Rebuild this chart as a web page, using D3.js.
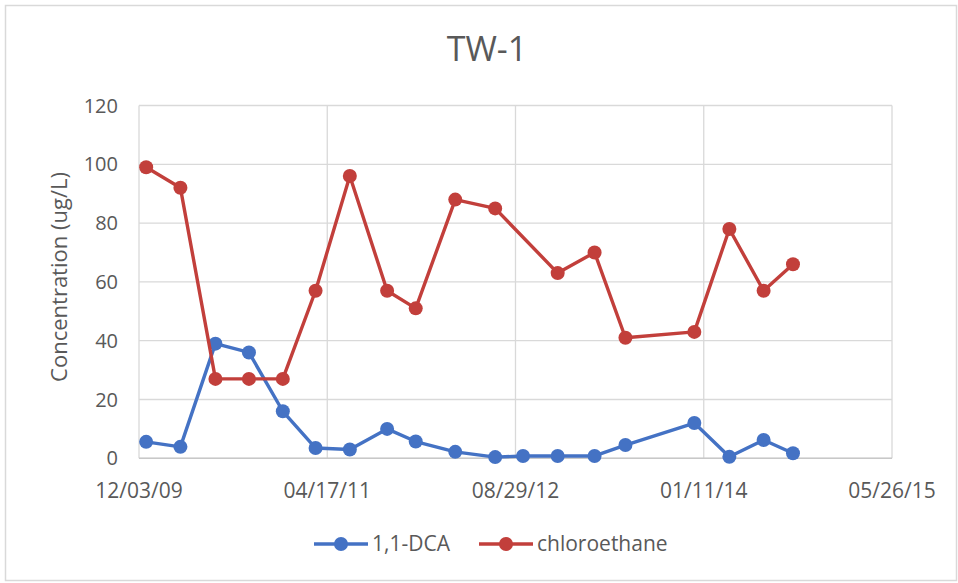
<!DOCTYPE html>
<html>
<head>
<meta charset="utf-8">
<script src="https://cdn.jsdelivr.net/npm/d3@7"></script>
<style>
  html, body { margin: 0; padding: 0; background: #fff; }
  svg { display: block; font-family: "Open Sans", "Noto Sans", sans-serif; }
</style>
</head>
<body>
<svg id="chart" width="958" height="583"></svg>
<script>
// ---- data ----
const sampleDates = ["2009-12-22","2010-03-23","2010-06-24","2010-09-21","2010-12-20",
  "2011-03-17","2011-06-16","2011-09-23","2011-12-08","2012-03-22","2012-07-06",
  "2012-09-18","2012-12-19","2013-03-27","2013-06-17","2013-12-17","2014-03-20",
  "2014-06-19","2014-09-05"];
const dcaValues = [5.6, 3.9, 39, 36, 16, 3.5, 3, 10, 5.7, 2.2, 0.4, 0.8, 0.8, 0.8, 4.5, 12, 0.5, 6.2, 1.7];
const chloroethaneValues = [99, 92, 27, 27, 27, 57, 96, 57, 51, 88, 85, null, 63, 70, 41, 43, 78, 57, 66];
const xTickLabels = ["12/03/09", "04/17/11", "08/29/12", "01/11/14", "05/26/15"];
const yTickValues = [0, 20, 40, 60, 80, 100, 120];
const seriesNames = ["1,1-DCA", "chloroethane"];
const chartTitle = "TW-1";
const yAxisTitle = "Concentration (ug/L)";

// ---- layout ----
const colors = ["#4472c4", "#c23f3b"];
const textColor = "#595959";
const gridColor = "#d9d9d9";
const plotLeft = 139, plotRight = 892, plotTop = 105.5, plotBottom = 458.3;

const parseISO = d3.timeParse("%Y-%m-%d");
const parseTick = d3.timeParse("%m/%d/%y");
const tickDates = xTickLabels.map(parseTick);
const dates = sampleDates.map(parseISO);

const x = d3.scaleTime().domain([tickDates[0], tickDates[tickDates.length - 1]]).range([plotLeft, plotRight]);
const y = d3.scaleLinear().domain([0, 120]).range([plotBottom, plotTop]);

const svg = d3.select("#chart");

// outer border
svg.append("rect").attr("x", 5.5).attr("y", 5.5).attr("width", 951).attr("height", 575)
  .attr("fill", "#fff").attr("stroke", gridColor).attr("stroke-width", 1.5);

// title
svg.append("text").attr("x", 487).attr("y", 61).attr("text-anchor", "middle")
  .attr("font-size", 34).attr("fill", textColor).text(chartTitle);

// horizontal gridlines
svg.append("g").selectAll("line").data(yTickValues).join("line")
  .attr("x1", plotLeft).attr("x2", plotRight)
  .attr("y1", d => y(d)).attr("y2", d => y(d))
  .attr("stroke", gridColor).attr("stroke-width", 1.3);

// vertical gridlines
svg.append("g").selectAll("line").data(tickDates).join("line")
  .attr("x1", d => x(d)).attr("x2", d => x(d))
  .attr("y1", plotTop).attr("y2", plotBottom)
  .attr("stroke", gridColor).attr("stroke-width", 1.3);

// x axis line
svg.append("line").attr("x1", plotLeft).attr("x2", plotRight).attr("y1", plotBottom).attr("y2", plotBottom)
  .attr("stroke", "#c8c8c8").attr("stroke-width", 1.5);

// y tick labels
svg.append("g").selectAll("text").data(yTickValues).join("text")
  .attr("x", 118).attr("y", d => y(d)).attr("dy", "0.35em")
  .attr("text-anchor", "end").attr("font-size", 20).attr("fill", textColor)
  .text(d => d);

// x tick labels
svg.append("g").selectAll("text").data(tickDates).join("text")
  .attr("x", d => x(d)).attr("y", 491).attr("dy", "0.35em")
  .attr("text-anchor", "middle").attr("font-size", 21).attr("fill", textColor)
  .text((d, i) => xTickLabels[i]);

// y axis title
svg.append("text")
  .attr("transform", "translate(59,277) rotate(-90)")
  .attr("text-anchor", "middle").attr("dy", "0.35em")
  .attr("font-size", 22).attr("fill", textColor)
  .text(yAxisTitle);

// series
const series = [dcaValues, chloroethaneValues].map((vals, i) => ({
  name: seriesNames[i],
  color: colors[i],
  points: vals.map((v, j) => ({ date: dates[j], value: v })).filter(p => p.value !== null)
}));

const line = d3.line().x(p => x(p.date)).y(p => y(p.value));

series.forEach(s => {
  const g = svg.append("g");
  g.append("path").datum(s.points).attr("d", line)
    .attr("fill", "none").attr("stroke", s.color).attr("stroke-width", 3.4)
    .attr("stroke-linejoin", "round");
  g.selectAll("circle").data(s.points).join("circle")
    .attr("cx", p => x(p.date)).attr("cy", p => y(p.value)).attr("r", 7)
    .attr("fill", s.color);
});

// legend
const legendItems = [
  { x0: 314, name: seriesNames[0], color: colors[0] },
  { x0: 479, name: seriesNames[1], color: colors[1] }
];
const ly = 544;
const lg = svg.append("g").selectAll("g").data(legendItems).join("g");
lg.append("line").attr("x1", d => d.x0).attr("x2", d => d.x0 + 54)
  .attr("y1", ly).attr("y2", ly).attr("stroke", d => d.color).attr("stroke-width", 3.4);
lg.append("circle").attr("cx", d => d.x0 + 27).attr("cy", ly).attr("r", 7).attr("fill", d => d.color);
lg.append("text").attr("x", d => d.x0 + 58).attr("y", ly).attr("dy", "0.35em")
  .attr("font-size", 21).attr("fill", textColor).text(d => d.name);
</script>
</body>
</html>
